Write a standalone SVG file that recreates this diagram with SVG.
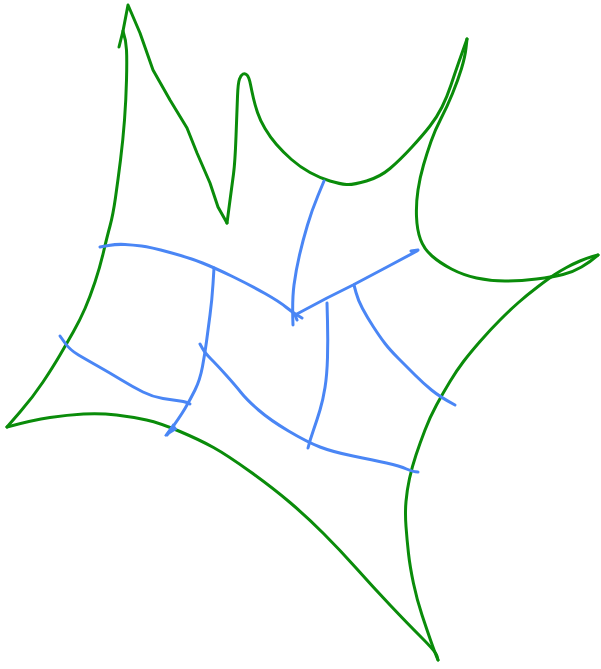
<svg xmlns="http://www.w3.org/2000/svg" width="601" height="669" viewBox="0 0 601 669">
<style>
.g{fill:none;stroke:#0a8c0a;stroke-width:3;stroke-linecap:round;stroke-linejoin:round}
.b{fill:none;stroke:#4a86f5;stroke-width:3;stroke-linecap:round;stroke-linejoin:round}
</style>
<rect width="601" height="669" fill="#ffffff"/>
<g id="outline">
<path class="g" d="M119,47 L123,31 L128,5 L140,33 L153,70 L170,100 L187,128 L197,153 L210,183 L218,207 L227,223"/>
<path class="g" d="M227,223 L229.5,204 Q232,185 233.5,174 Q235,163 236,136.5 Q237,110 237.5,96.5 Q238,83 239.5,79 Q241,75 243,74 Q245,73 247,75 Q249,77 250.5,84.5 Q252,92 253.5,98.5 Q255,105 257.5,112.5 Q260,120 265,128.5 Q270,137 276.5,144.5 Q283,152 291.5,159.5 Q300,167 310,172.5 Q320,178 330,181 Q340,184 346.5,184.5 Q353,185 366.5,181 Q380,177 390,168.5 Q400,160 411.5,147.5 Q423,135 430,126 Q437,117 442,107 Q447,97 451,85 Q455,73 458.5,63 Q462,53 467,39"/>
<path class="g" d="M467,39 L466,48 Q465,57 461.5,68.5 Q458,80 452.5,93.5 Q447,107 441,118.5 Q435,130 431,141.5 Q427,153 423.5,165 Q420,177 418,190 Q416,203 416.5,216.5 Q417,230 420.5,239.5 Q424,249 432,256 Q440,263 451.5,269 Q463,275 476.5,278 Q490,281 505,281 Q520,281 536.5,279 Q553,277 563,274.5 Q573,272 581.5,267 Q590,262 598,255"/>
<path class="g" d="M598,255 L592.5,256.5 Q587,258 580,261 Q573,264 566.5,267.5 Q560,271 554,275 Q548,279 537.5,287 Q527,295 518.5,302.5 Q510,310 500,320 Q490,330 480,341.5 Q470,353 463.5,361.5 Q457,370 450,381.5 Q443,393 436.5,405 Q430,417 425,430 Q420,443 416,455 Q412,467 409.5,478.5 Q407,490 406,501.5 Q405,513 406,526.5 Q407,540 408.5,553.5 Q410,567 413.5,583.5 Q417,600 422,615 Q427,630 431,641.5 Q435,653 438,660"/>
<path class="g" d="M438,660 L437,656 Q436,652 421.5,637.5 Q407,623 390,605 Q373,587 356.5,568.5 Q340,550 323.5,533.5 Q307,517 290,502.5 Q273,488 250,471.5 Q227,455 213.5,447.5 Q200,440 180,431.5 Q160,423 146.5,420 Q133,417 116.5,415 Q100,413 83.5,414 Q67,415 50,417.5 Q33,420 7,427"/>
<path class="g" d="M7,427 L20,412 Q33,397 43,382 Q53,367 60,355 Q67,343 73.5,331.5 Q80,320 85,308.5 Q90,297 95,282 Q100,267 103.5,252 Q107,237 110,226 Q113,215 115.5,197.5 Q118,180 120.5,160 Q123,140 124.5,120 Q126,100 126.5,80 Q127,60 126.5,50 Q126,40 123,31"/>
</g>
<g id="connectors">
<path class="b" d="M100,247 L108.5,245.5 Q117,244 125,244.5 Q133,245 141.5,246 Q150,247 170,252.5 Q190,258 202.5,263 Q215,268 232.5,276.5 Q250,285 265,293.5 Q280,302 286.5,307.5 Q293,313 302,318"/>
<path class="b" d="M297,320 L295,315 L327,298 L353,285 L387,267 L417,251 M411,251 L418,250"/>
<path class="b" d="M324,181 L318,195.5 Q312,210 307.5,225 Q303,240 299.5,255 Q296,270 294,285 Q292,300 293,325"/>
<path class="b" d="M214,268 L213,284 Q212,300 210,315 Q208,330 206.5,341.5 Q205,353 202.5,366.5 Q200,380 195,390 Q190,400 185,408.5 Q180,417 167,435"/>
<path class="b" d="M60,336 L65,343 Q70,350 78.5,355 Q87,360 98.5,366.5 Q110,373 121.5,380 Q133,387 143,392 Q153,397 163,398.5 Q173,400 180,401 Q187,402 190,404"/>
<path class="b" d="M200,344 L202.5,348.5 Q205,353 211,359 Q217,365 226,375 Q235,385 241,392.5 Q247,400 258.5,410 Q270,420 288.5,431 Q307,442 320,447 Q333,452 353,456 Q373,460 386.5,463 Q400,466 406.5,469 Q413,472 418,472"/>
<path class="b" d="M327,303 L327.5,321.5 Q328,340 327.5,357.5 Q327,375 325,387.5 Q323,400 320,410 Q317,420 313.5,430 Q310,440 308,448"/>
<path class="b" d="M354,285 L356,292.5 Q358,300 362.5,308.5 Q367,317 373.5,327 Q380,337 385,343.5 Q390,350 398.5,358.5 Q407,367 415,375 Q423,383 431.5,390 Q440,397 455,405"/>
<path d="M165,436 L173,425 L176,429 Z" fill="#4a86f5" stroke="#4a86f5" stroke-width="2"/>
</g>
</svg>
